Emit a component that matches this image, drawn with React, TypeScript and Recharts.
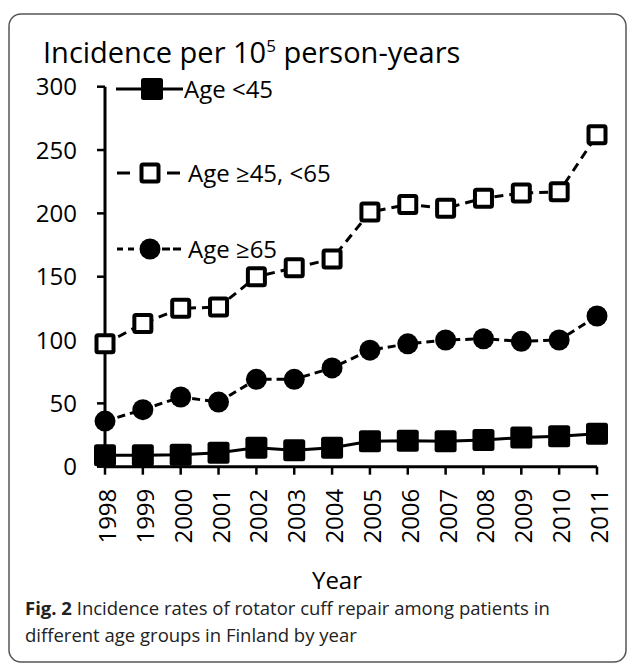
import React from 'react';
import { LineChart, Line, XAxis, YAxis, Legend } from 'recharts';

const years = ['1998', '1999', '2000', '2001', '2002', '2003', '2004', '2005', '2006', '2007', '2008', '2009', '2010', '2011'];
const ageUnder45 = [9, 9, 9.5, 11, 15, 13, 15, 20, 20.5, 20, 21, 23, 24, 26];
const age45to64 = [97, 113, 125, 126, 150, 157, 164, 201, 207, 204, 212, 216, 217, 262];
const age65plus = [36, 45, 55, 51, 69, 69, 78, 92, 97, 100, 101, 99, 100, 119];
const yTicks = [0, 50, 100, 150, 200, 250, 300];
const seriesNames = ['Age <45', 'Age \u226545, <65', 'Age \u226565'];

const data = years.map((year, i) => ({
  year,
  young: ageUnder45[i],
  middle: age45to64[i],
  old: age65plus[i],
}));

const FONT = '"Open Sans", sans-serif';

const FilledSquare = (props: any) => {
  const { cx, cy, index } = props;
  if (cx == null || cy == null) return null;
  return <rect key={`fs-${index}`} x={cx - 11} y={cy - 11} width={22} height={22} rx={2.5} fill="#000" />;
};

const OpenSquare = (props: any) => {
  const { cx, cy, index } = props;
  if (cx == null || cy == null) return null;
  return (
    <rect key={`os-${index}`} x={cx - 8.5} y={cy - 8.5} width={17} height={17} rx={1.5}
      fill="#fff" stroke="#000" strokeWidth={4} />
  );
};

const FilledCircle = (props: any) => {
  const { cx, cy, index } = props;
  if (cx == null || cy == null) return null;
  return <circle key={`fc-${index}`} cx={cx} cy={cy} r={10.5} fill="#000" />;
};

const YearTick = (props: any) => {
  const { x, y, payload } = props;
  const ty = y + 12;
  return (
    <text x={x} y={ty} dy={11} transform={`rotate(-90 ${x} ${ty})`} textAnchor="end"
      fontFamily={FONT} fontSize={24} fill="#000">
      {payload.value}
    </text>
  );
};

// legend drawn at page coords, offset by wrapper position
const LX = 100;
const LY = 70;
const renderLegend = () => (
  <svg width={220} height={200} style={{ overflow: 'visible' }}>
    <g transform={`translate(${-LX}, ${-LY})`} fontFamily={FONT} fontSize={24} fill="#000">
      {/* Age <45 */}
      <line x1={116} x2={183} y1={89} y2={89} stroke="#000" strokeWidth={3} />
      <rect x={141} y={78} width={22} height={22} rx={2.5} fill="#000" />
      <text x={184} y={97.5}>{seriesNames[0]}</text>
      {/* Age >=45, <65 */}
      <line x1={117} x2={130} y1={173} y2={173} stroke="#000" strokeWidth={3} />
      <line x1={167} x2={180} y1={173} y2={173} stroke="#000" strokeWidth={3} />
      <rect x={141.5} y={164.5} width={17} height={17} rx={1.5} fill="#fff" stroke="#000" strokeWidth={4} />
      <text x={188} y={181.5}>{seriesNames[1]}</text>
      {/* Age >=65 */}
      <line x1={117} x2={137} y1={249} y2={249} stroke="#000" strokeWidth={3} strokeDasharray="6 5" />
      <line x1={162} x2={182} y1={249} y2={249} stroke="#000" strokeWidth={3} strokeDasharray="8 3" />
      <circle cx={150} cy={249} r={10.5} fill="#000" />
      <text x={188} y={257.5}>{seriesNames[2]}</text>
    </g>
  </svg>
);

export default function App() {
  return (
    <div style={{ position: 'absolute', left: 0, top: 0, width: 629, height: 667, background: '#fff' }}>
      <LineChart
        width={629}
        height={667}
        data={data}
        margin={{ top: 86.7, right: 32, bottom: 120.3, left: 45 }}
      >
        <XAxis
          dataKey="year"
          type="category"
          interval={0}
          height={80}
          padding={{ left: 0, right: 0 }}
          tickSize={8}
          axisLine={{ stroke: '#000', strokeWidth: 3 }}
          tickLine={{ stroke: '#000', strokeWidth: 2.5 }}
          tick={<YearTick />}
        />
        <YAxis
          type="number"
          domain={[0, 300]}
          ticks={yTicks}
          width={60}
          tickSize={8}
          tickMargin={20}
          axisLine={{ stroke: '#000', strokeWidth: 3 }}
          tickLine={{ stroke: '#000', strokeWidth: 2.5 }}
          tick={{ fontFamily: FONT, fontSize: 24, fill: '#000' }}
        />
        <Legend
          layout="vertical"
          align="center"
          verticalAlign="middle"
          content={renderLegend}
          wrapperStyle={{ left: LX, top: LY, width: 220, height: 200 }}
        />
        <Line
          dataKey="middle"
          name={seriesNames[1]}
          stroke="#000"
          strokeWidth={3}
          strokeDasharray="9 6"
          dot={OpenSquare}
          activeDot={false}
          isAnimationActive={false}
        />
        <Line
          dataKey="old"
          name={seriesNames[2]}
          stroke="#000"
          strokeWidth={3}
          strokeDasharray="8 5"
          dot={FilledCircle}
          activeDot={false}
          isAnimationActive={false}
        />
        <Line
          dataKey="young"
          name={seriesNames[0]}
          stroke="#000"
          strokeWidth={3}
          dot={FilledSquare}
          activeDot={false}
          isAnimationActive={false}
        />
      </LineChart>
      <svg width={629} height={667} style={{ position: 'absolute', left: 0, top: 0, pointerEvents: 'none' }}>
        <rect x={9} y={14} width={617} height={648} rx={12} fill="none" stroke="#555" strokeWidth={1.5} />
        <text x={43} y={63} fontFamily={FONT} fontSize={29} fill="#000">
          Incidence per 10
          <tspan dy={-11} fontSize={17}>5</tspan>
          <tspan dy={11}> person-years</tspan>
        </text>
        <text x={337} y={589} textAnchor="middle" fontFamily={FONT} fontSize={24} fill="#000">Year</text>
        <text x={25} y={615} fontFamily={FONT} fontSize={18.5} fill="#222">
          <tspan fontWeight={700}>Fig. 2</tspan> Incidence rates of rotator cuff repair among patients in
        </text>
        <text x={25} y={642} fontFamily={FONT} fontSize={18.5} fill="#222">
          different age groups in Finland by year
        </text>
      </svg>
    </div>
  );
}
